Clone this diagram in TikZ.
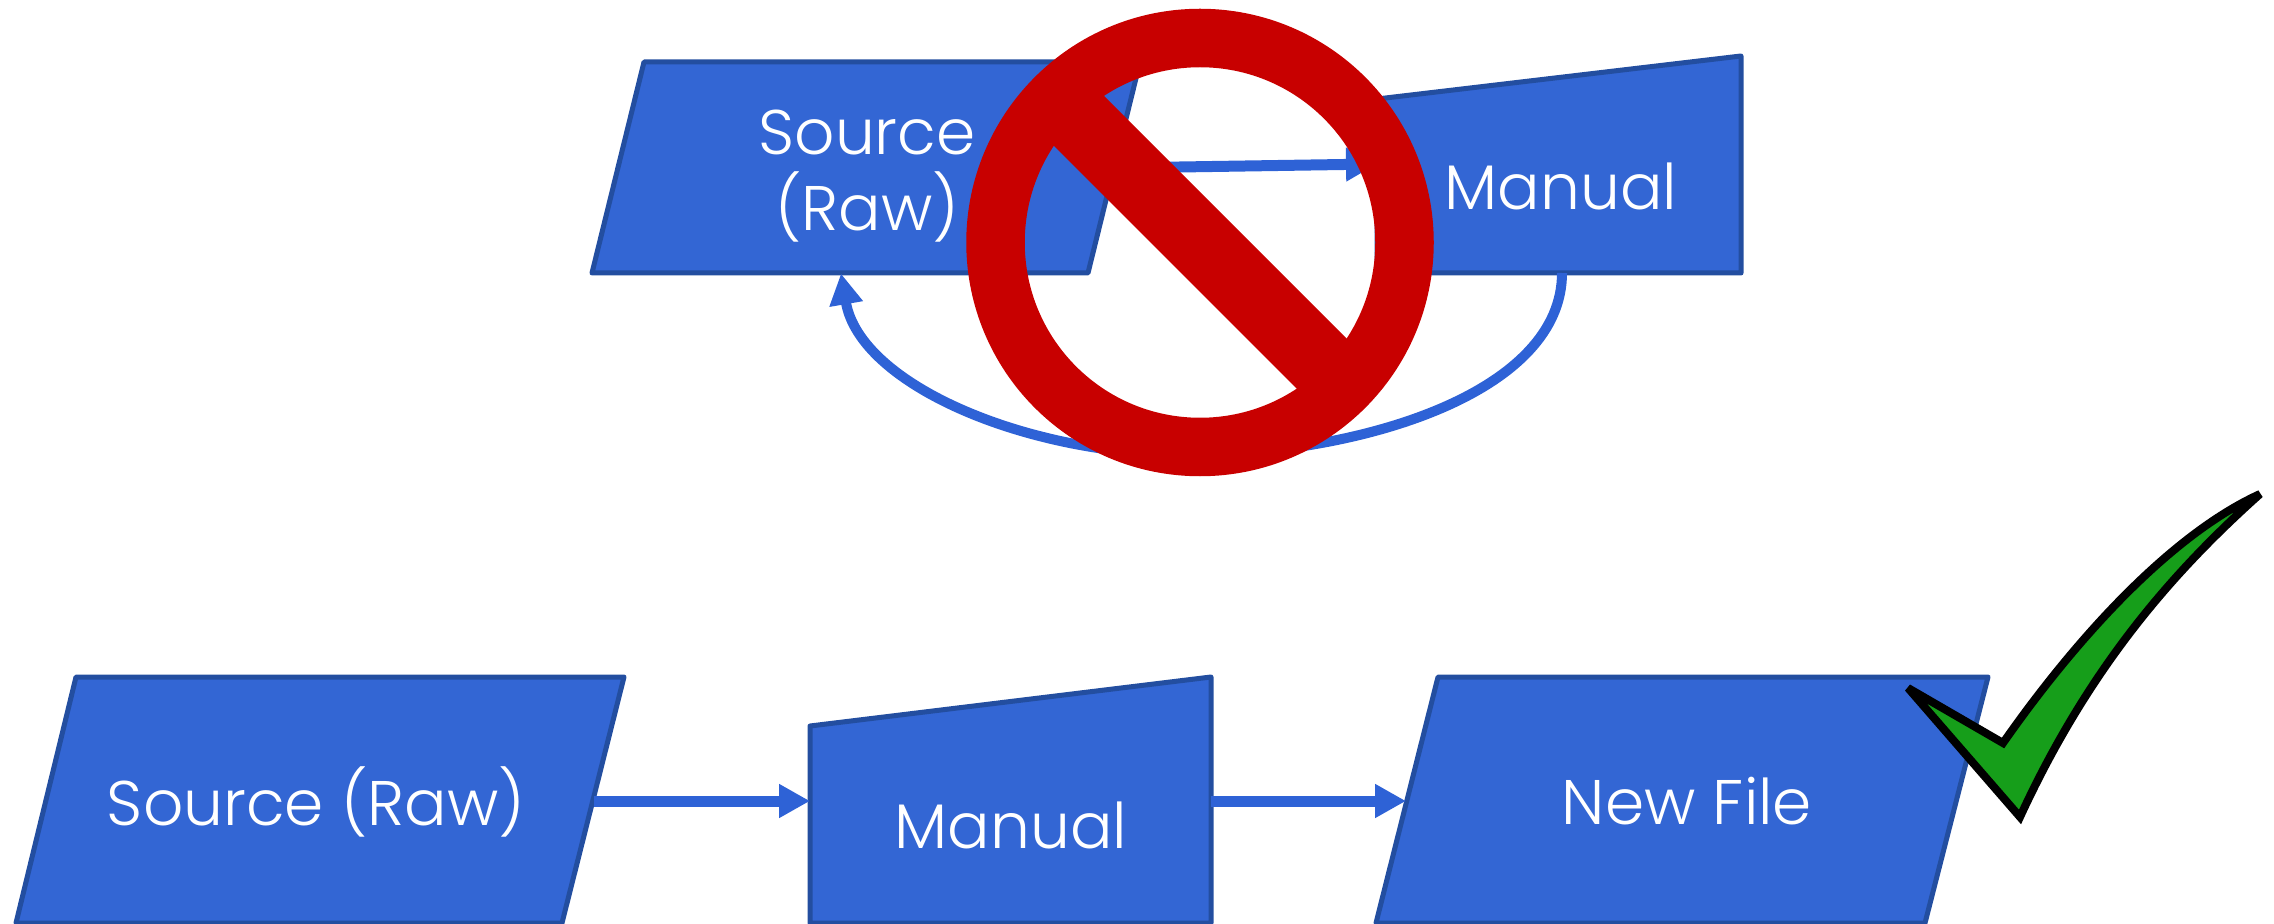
\documentclass[tikz,border=0pt]{standalone}
\usepackage{fontspec}
\setmainfont{Poppins Light}
\usetikzlibrary{arrows.meta}
\definecolor{boxfill}{HTML}{3366D4}
\definecolor{boxline}{HTML}{234EA0}
\definecolor{flow}{HTML}{2E62D6}
\definecolor{stopred}{HTML}{C80000}
\definecolor{okgreen}{HTML}{169E1A}
\tikzset{
  shapebox/.style={fill=boxfill,draw=boxline,line width=2.5pt,line join=round},
  anchorbox/.style={inner sep=0pt,outer sep=0pt,minimum height=#1},
  label/.style={anchor=base,text=white,font=\fontsize{31.5pt}{37pt}\selectfont,inner sep=0pt},
  flowline/.style={draw=flow,line width=5.5pt,-{Triangle[length=15.5pt,width=16pt]}},
  loopline/.style={draw=flow,line width=5pt,-{Triangle[length=15.5pt,width=16pt]}}
}
\begin{document}
\begin{tikzpicture}[x=0.5pt,y=-0.5pt]
\useasboundingbox (0,0) rectangle (2274,924);
\clip (0,0) rectangle (2274,924);
% top row
\draw[shapebox] (644,62) -- (1140,62) -- (1088,273) -- (592,273) -- cycle;
\draw[shapebox] (1377,99) -- (1741,56) -- (1741,273) -- (1377,273) -- cycle;
\node[anchorbox=105.5pt,minimum width=261pt] (s1) at (853,168) {};
\node[anchorbox=109pt,minimum width=182pt] (m1) at (1559,164) {};
\node[label] (s1a) at (867,155) {Source};
\node[label] (s1b) at (867,231) {(Raw)};
\node[label] (m1t) at (1561,210) {Manual};
\draw[flowline] (s1.east) -- (m1.west);
\draw[loopline] ([xshift=1.5pt]m1.south) .. controls +(0,117) and (1370,452) .. (1200,455)
  .. controls (1030,458) and (860,385) .. ([xshift=-6pt]s1.south);
% prohibition sign
\node[circle,draw=stopred,line width=29.25pt,minimum size=204.5pt,inner sep=0pt,outer sep=0pt] (nosign) at (1200,242.5) {};
\fill[stopred] (1091,83) -- (1361,353) -- (1310,402) -- (1040,132) -- cycle;
% bottom row
\draw[shapebox] (76,677) -- (624,677) -- (562,923) -- (16,923) -- cycle;
\draw[shapebox] (810,726) -- (1211,677) -- (1211,923) -- (810,923) -- cycle;
\draw[shapebox] (1438,677) -- (1988,677) -- (1925,923) -- (1376,923) -- cycle;
\node[anchorbox=120pt,minimum width=274.5pt] (s2) at (319.5,801) {};
\node[anchorbox=120pt,minimum width=200.5pt] (m2) at (1010.5,801) {};
\node[anchorbox=120pt,minimum width=276pt] (n2) at (1682,801) {};
\node[label] (s2t) at (316,825) {Source (Raw)};
\node[label] (m2t) at (1011,848) {Manual};
\node[label] (n2t) at (1687,824) {New File};
\draw[flowline] (s2.east) -- (m2.west);
\draw[flowline] (m2.east) -- (n2.west);
% check mark
\draw[fill=okgreen,draw=black,line width=4pt,miter limit=4] (1908,688) -- (2003,743)
  .. controls (2075,640) and (2170,535) .. (2260,494)
  .. controls (2175,570) and (2090,665) .. (2020,817) -- cycle;
\end{tikzpicture}
\end{document}
